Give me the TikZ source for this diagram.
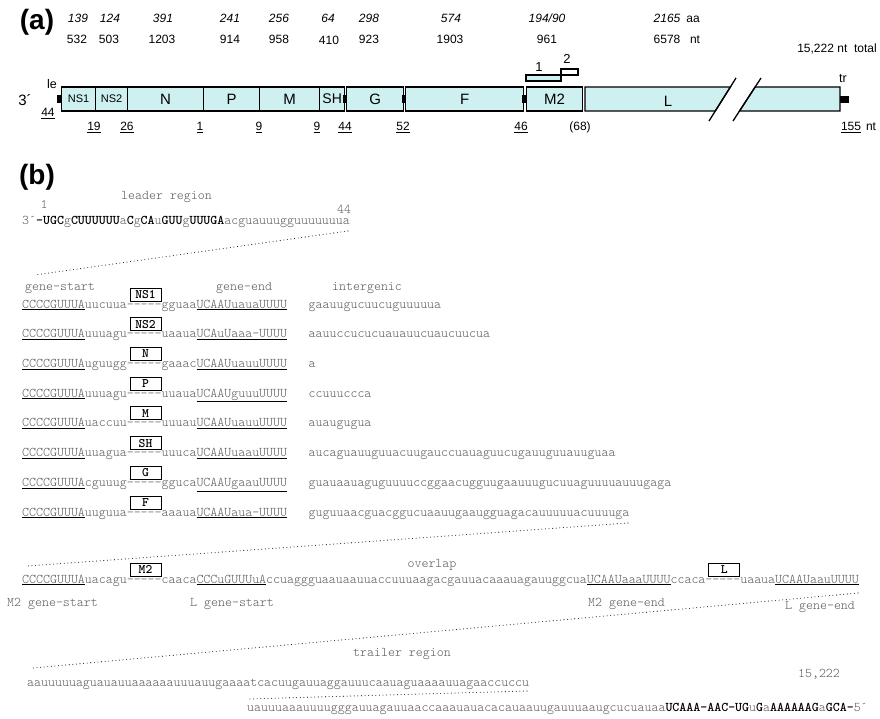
\documentclass[tikz,border=0pt]{standalone}
\usepackage{fontspec}
\setmainfont{Liberation Sans}
\definecolor{cyanfill}{RGB}{207,240,240}
\definecolor{seqgray}{RGB}{90,90,90}
\newcommand\seqf{\ttfamily\fontseries{l}\fontsize{13.28}{14}\selectfont}
\newcommand\sqB[1]{\textcolor{black}{\bfseries #1}}
\newcommand\sqU[1]{\textcolor{black}{\underline{\textcolor{seqgray}{#1}}}}
\newcommand\sqD{-\kern0pt-\kern0pt-\kern0pt-\kern0pt-}
\newcommand\fs[1]{\fontsize{#1}{#1}\selectfont}
\begin{document}
\begin{tikzpicture}[x=1pt,y=-1pt,
  num/.style={font=\fs{12}, anchor=base, inner sep=0pt},
  inum/.style={font=\itshape\fs{12}, anchor=base, inner sep=0pt},
  gbox/.style={draw, line width=1.3pt, fill=cyanfill, minimum height=24pt, inner sep=0pt, anchor=west, font=\fs{15}},
  seq/.style={font=\seqf, text=seqgray, anchor=base west, inner sep=0pt},
  glab/.style={draw, line width=1pt, fill=white, minimum width=31pt, minimum height=13pt, inner sep=0pt, anchor=south west, font=\ttfamily\bfseries\fs{13}},
  dotline/.style={line width=1.1pt, line cap=round, dash pattern=on 0pt off 3.6pt, black!85},
  panel/.style={font=\bfseries\fs{28}, inner sep=0pt}]
\useasboundingbox (0,0) rectangle (880,719);
% ---------------- (a)
\node[panel] (pa) at (37,22) {(a)};
% aa row
\node[inum] (aa1) at (78,23) {139};
\node[inum] (aa2) at (110,23) {124};
\node[inum] (aa3) at (163,23) {391};
\node[inum] (aa4) at (230,23) {241};
\node[inum] (aa5) at (279,23) {256};
\node[inum] (aa6) at (328,23) {64};
\node[inum] (aa7) at (369,23) {298};
\node[inum] (aa8) at (451,23) {574};
\node[inum] (aa9) at (547,23) {194/90};
\node[inum] (aa10) at (667,23) {2165};
\node[num] (aau) at (693,23) {aa};
% nt row
\node[num] (nt1) at (77,44) {532};
\node[num] (nt2) at (109,44) {503};
\node[num] (nt3) at (162,44) {1203};
\node[num] (nt4) at (230,44) {914};
\node[num] (nt5) at (279,44) {958};
\node[num] (nt6) at (329,45) {410};
\node[num] (nt7) at (369,44) {923};
\node[num] (nt8) at (450,44) {1903};
\node[num] (nt9) at (547,44) {961};
\node[num] (nt10) at (667,44) {6578};
\node[num] (ntu) at (695,44) {nt};
\node[num] (tot) at (837,53) {15,222 nt~~total};
% genome bar
\node[font=\fs{15}, inner sep=0pt] (three) at (25,100) {3´};
\node[font=\fs{12.5}, inner sep=0pt] (le) at (52,84) {le};
\node[font=\fs{12.5}, inner sep=0pt] (tr) at (843,79) {tr};
\fill (57,95) rectangle (61,103);
\node[gbox, minimum width=34pt, font=\fs{11}] (ns1) at (61,99) {NS1};
\node[gbox, minimum width=32pt, font=\fs{11}] (ns2) at (95,99) {NS2};
\node[gbox, minimum width=76pt] (gn) at (127,99) {N};
\node[gbox, minimum width=56pt] (gp) at (203,99) {P};
\node[gbox, minimum width=60pt] (gm) at (259,99) {M};
\node[gbox, minimum width=25pt, font=\fs{14}] (gsh) at (319,99) {SH};
\fill (343,95) rectangle (347,103);
\node[gbox, minimum width=57pt] (gg) at (346,99) {G};
\fill (402,95) rectangle (406,103);
\node[gbox, minimum width=118pt] (gf) at (405,99) {F};
\fill (522,95) rectangle (527,103);
\node[gbox, minimum width=56pt] (gm2) at (526,99) {M2};
\draw[line width=1.3pt, fill=cyanfill] (585,87) -- (730.4,87) -- (715.3,111) -- (585,111) -- cycle;
\draw[line width=1.3pt, fill=cyanfill] (755.1,87) -- (840,87) -- (840,111) -- (739.5,111) -- cycle;
\node[font=\fs{15}, inner sep=0pt] (gl) at (668,101) {L};
\draw[line width=1.3pt] (709,121) -- (736,78);
\draw[line width=1.3pt] (733,121) -- (761,78);
\fill (840,96) rectangle (849,103);
% overlap boxes
\draw[line width=1.1pt, fill=cyanfill] (526,75) rectangle (561,81);
\draw[line width=1.1pt, fill=white] (561,69) rectangle (578,75);
\node[font=\fs{13}, inner sep=0pt] (o1) at (539,67) {1};
\node[font=\fs{13}, inner sep=0pt] (o2) at (567,59) {2};
% intergenic numbers
\node[num] (ig0) at (48,117) {\underline{44}};
\node[num] (ig1) at (94,131) {\underline{19}};
\node[num] (ig2) at (127,131) {\underline{26}};
\node[num] (ig3) at (200,131) {\underline{1}};
\node[num] (ig4) at (259,131) {\underline{9}};
\node[num] (ig5) at (317,131) {\underline{9}};
\node[num] (ig6) at (345,131) {\underline{44}};
\node[num] (ig7) at (403,131) {\underline{52}};
\node[num] (ig8) at (521,131) {\underline{46}};
\node[num] (ig9) at (580,131) {(68)};
\node[num] (ig10) at (851,131) {\underline{155}};
\node[num] (ig11) at (871,131) {nt};
% ---------------- (b)
\node[panel] (pb) at (37,177) {(b)};
\node[seq] (lreg) at (121,200) {leader region};
\node[seq] (lone) at (40.5,209) {1};
\node[seq] (l44) at (337,214) {44};
\node[seq] (lead) at (22,225) {3´\sqB{-UGC}g\sqB{CUUUUUU}a\sqB{C}g\sqB{CA}u\sqB{GUU}g\sqB{UUUGA}acguauuugguuuuuuua};
\coordinate (d1a) at (348,231);
\coordinate (d1b) at (35,275);
\draw[dotline] (d1a) -- (d1b);
\node[seq] (hgs) at (25,290) {gene-start};
\node[seq] (hge) at (216,290) {gene-end};
\node[seq] (hig) at (332,290) {intergenic};
% gene rows
\node[seq] (r1) at (22,308) {\sqU{CCCCGUUUA}uucuua\sqD{}gguaa\sqU{UCAAUuauaUUUU}};
\node[seq] (i1) at (308.5,308) {gaauugucuucuguuuuua};
\node[glab] (b1) at (129.5,301.5) {NS1};
\node[seq] (r2) at (22,337.7) {\sqU{CCCCGUUUA}uuuagu\sqD{}uaaua\sqU{UCAuUaaa-UUUU}};
\node[seq] (i2) at (308.5,337.7) {aauuccucucuauauucuaucuucua};
\node[glab] (b2) at (129.5,331.2) {NS2};
\node[seq] (r3) at (22,367.4) {\sqU{CCCCGUUUA}uguugg\sqD{}gaaac\sqU{UCAAUuauuUUUU}};
\node[seq] (i3) at (308.5,367.4) {a};
\node[glab] (b3) at (129.5,360.9) {N};
\node[seq] (r4) at (22,397.1) {\sqU{CCCCGUUUA}uuuagu\sqD{}uuaua\sqU{UCAAUguuuUUUU}};
\node[seq] (i4) at (308.5,397.1) {ccuuuccca};
\node[glab] (b4) at (129.5,390.6) {P};
\node[seq] (r5) at (22,426.9) {\sqU{CCCCGUUUA}uaccuu\sqD{}uuuau\sqU{UCAAUuauuUUUU}};
\node[seq] (i5) at (308.5,426.9) {auaugugua};
\node[glab] (b5) at (129.5,420.4) {M};
\node[seq] (r6) at (22,456.6) {\sqU{CCCCGUUUA}uuagua\sqD{}uuuca\sqU{UCAAUuaauUUUU}};
\node[seq] (i6) at (308.5,456.6) {aucaguauuguuacuugauccuauaguucugauuguuauuguaa};
\node[glab] (b6) at (129.5,450.1) {SH};
\node[seq] (r7) at (22,486.3) {\sqU{CCCCGUUUA}cguuug\sqD{}gguca\sqU{UCAAUgaauUUUU}};
\node[seq] (i7) at (308.5,486.3) {guauaauaguguuuuccggaacugguugaauuugucuuaguuuuauuugaga};
\node[glab] (b7) at (129.5,479.8) {G};
\node[seq] (r8) at (22,516) {\sqU{CCCCGUUUA}uuguua\sqD{}aaaua\sqU{UCAAUaua-UUUU}};
\node[seq] (i8) at (308.5,516) {guguuaacguacggucuaauugaaugguagacauuuuuacuuuuga};
\node[glab] (b8) at (129.5,509.5) {F};
\coordinate (d2a) at (628,523);
\coordinate (d2b) at (27,566);
\draw[dotline] (d2a) -- (d2b);
% M2 / L overlap
\node[seq, anchor=base] (ovl) at (432,567) {overlap};
\node[seq] (m2row) at (22,583) {\sqU{CCCCGUUUA}uacagu\sqD{}caaca\sqU{CCCuGUUUuA}ccuaggguaauaauuaccuuuaagacgauuacaaauagauuggcua\sqU{UCAAUaaaUUUU}ccaca\sqD{}uaaua\sqU{UCAAUaauUUUU}};
\node[glab] (bm2) at (129.5,576.5) {M2};
\node[glab] (bl) at (708.3,576.5) {L};
\node[seq] (m2gs) at (7,606) {M2 gene-start};
\node[seq] (lgs) at (190,606) {L gene-start};
\node[seq] (m2ge) at (588,606) {M2 gene-end};
\node[seq] (lge) at (785,609) {L gene-end};
\coordinate (d3a) at (858,593);
\coordinate (d3b) at (33,668);
\draw[dotline] (d3a) -- (d3b);
% trailer
\node[seq] (treg) at (353,656) {trailer region};
\node[seq, anchor=base] (t15) at (819,677) {15,222};
\node[seq] (trl1) at (27,686) {aauuuuuaguauauuaaaaaauuuauugaaaatcacuugauuaggauuucaauaguaaaauuagaaccuccu};
\coordinate (d4a) at (527,691);
\coordinate (d4b) at (247,699);
\draw[dotline] (d4a) -- (d4b);
\node[seq] (trl2) at (247,711) {uauuuaaauuuugggauuagauuaaccaaauauacacauaauugauuuaaugcucuauaa\sqB{UCAAA-AAC-UG}u\sqB{G}a\sqB{AAAAAAG}a\sqB{GCA-}5´};
\end{tikzpicture}
\end{document}
